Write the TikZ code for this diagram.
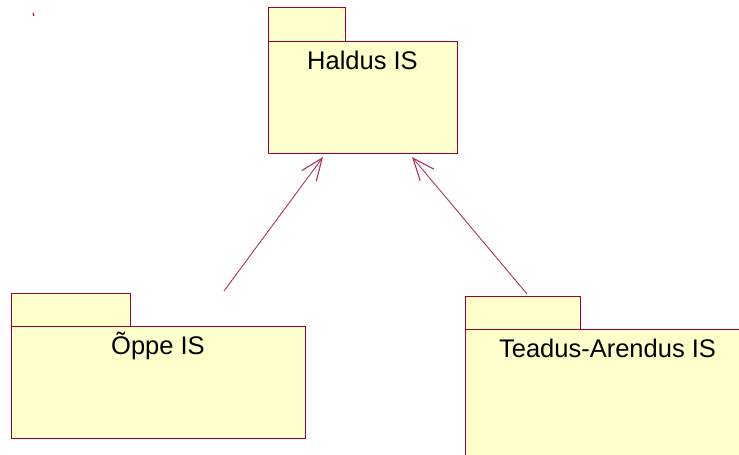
\documentclass[tikz,border=0pt]{standalone}
\usepackage{fontspec}
\setmainfont{Liberation Sans}
\usetikzlibrary{arrows.meta}
\definecolor{pkgline}{RGB}{153,0,51}
\definecolor{pkgfill}{RGB}{255,255,204}
\tikzset{
  pkgbox/.style={draw=pkgline, fill=pkgfill, line width=1pt, inner sep=0pt, anchor=north west},
  pkgname/.style={anchor=base, inner sep=0pt, font=\fontsize{25.5}{30}\selectfont},
  dep/.style={draw=pkgline!80, line width=0.9pt, -{Straight Barb[length=22pt,width=18pt,line width=1.1pt]}}
}
\begin{document}
\begin{tikzpicture}[x=1pt,y=-1pt]
  \useasboundingbox (0,0) rectangle (739,455);
  \clip (0,0) rectangle (739,455);

  % small stray mark
  \draw[pkgline, line width=1pt] (33,13) -- (34,16);

  % Haldus IS
  \node[pkgbox, minimum width=77pt, minimum height=34pt] (haltab) at (268,7) {};
  \node[pkgbox, minimum width=189pt, minimum height=112pt] (haldus) at (268,41) {};
  \node[pkgname] (haltext) at (362.5,69) {Haldus IS};

  % Õppe IS
  \node[pkgbox, minimum width=119pt, minimum height=33pt] (oppetab) at (11,293) {};
  \node[pkgbox, minimum width=294pt, minimum height=112pt] (oppe) at (11,326) {};
  \node[pkgname] (oppetext) at (158,354) {Õppe IS};

  % Teadus-Arendus IS
  \node[pkgbox, minimum width=115pt, minimum height=33pt] (tatab) at (465,296) {};
  \node[pkgbox, minimum width=290pt, minimum height=140pt] (ta) at (465,329) {};
  \node[pkgname] (tatext) at (607.5,357) {Teadus-Arendus IS};

  % dependencies
  \coordinate (oppedep) at (224,291);
  \coordinate (tadep) at (527,294);
  \draw[dep] (oppedep) -- ([xshift=55pt,yshift=-3pt]haldus.south west);
  \draw[dep] (tadep) -- ([xshift=144pt,yshift=-3pt]haldus.south west);
\end{tikzpicture}
\end{document}
